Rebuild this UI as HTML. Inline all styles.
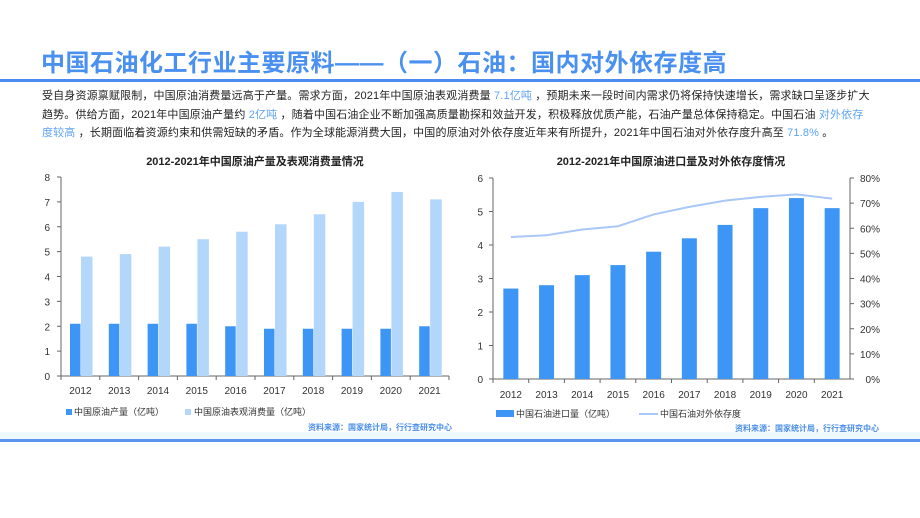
<!DOCTYPE html>
<html><head><meta charset="utf-8">
<style>
body{margin:0;width:920px;height:518px;background:#fff;position:relative;overflow:hidden;font-family:"Liberation Sans","Noto Sans CJK SC",sans-serif;}
.title{position:absolute;left:41px;top:52px;font-size:24px;line-height:24px;font-weight:bold;color:#4a90f0;letter-spacing:0.5px;white-space:nowrap;}
.tline{position:absolute;left:0;top:79px;width:920px;height:3px;background:#4a8cf0;}
.para{position:absolute;left:42px;top:87px;width:900px;font-size:11px;line-height:18.5px;color:#222;letter-spacing:0.15px;white-space:nowrap;}
.hl{color:#5ea4f5;}
.bline{position:absolute;left:0;top:439px;width:920px;height:3px;background:#5b93ee;}
.band{position:absolute;left:0;top:432px;width:920px;height:7px;background:#eef8ff;}
svg{position:absolute;left:0;top:0;}
</style></head><body>
<div class="title">中国石油化工行业主要原料——（一）石油：国内对外依存度高</div>
<div class="tline"></div>
<div class="para">受自身资源禀赋限制，中国原油消费量远高于产量。需求方面，2021年中国原油表观消费量 <span class="hl">7.1亿吨</span> ，预期未来一段时间内需求仍将保持快速增长，需求缺口呈逐步扩大<br>趋势。供给方面，2021年中国原油产量约 <span class="hl">2亿吨</span> ，随着中国石油企业不断加强高质量勘探和效益开发，积极释放优质产能，石油产量总体保持稳定。中国石油 <span class="hl">对外依存<br>度较高</span> ，长期面临着资源约束和供需短缺的矛盾。作为全球能源消费大国，中国的原油对外依存度近年来有所提升，2021年中国石油对外依存度升高至 <span class="hl">71.8%</span> 。</div>
<div class="band"></div>
<div class="bline"></div>
<svg id="chart" width="920" height="518"></svg>
<script>
const years=["2012","2013","2014","2015","2016","2017","2018","2019","2020","2021"];
const production=[2.1,2.1,2.1,2.1,2.0,1.9,1.9,1.9,1.9,2.0];
const consumption=[4.8,4.9,5.2,5.5,5.8,6.1,6.5,7.0,7.4,7.1];
const leftTicks=[0,1,2,3,4,5,6,7,8];
const imports=[2.7,2.8,3.1,3.4,3.8,4.2,4.6,5.1,5.4,5.1];
const dependence=[56.5,57.2,59.5,60.8,65.5,68.5,71.0,72.5,73.5,71.8];
const rightTicksL=[0,1,2,3,4,5,6];
const rightTicksR=[0,10,20,30,40,50,60,70,80];

const svg=document.getElementById('chart');
const NS="http://www.w3.org/2000/svg";
function mk(tag,attrs,txt){const e=document.createElementNS(NS,tag);for(const k in attrs)e.setAttribute(k,attrs[k]);if(txt!==undefined)e.textContent=txt;svg.appendChild(e);return e;}
const F='"Liberation Sans","Noto Sans CJK SC",sans-serif';

// Left chart
const L={x0:61,x1:449,y0:376,y1:177,max:8};
const lx=i=>L.x0+(L.x1-L.x0)/years.length*i;
const ly=v=>L.y0-(L.y0-L.y1)*v/L.max;
const lcw=(L.x1-L.x0)/years.length;
let t=mk('text',{x:255,y:165,'text-anchor':'middle','font-size':11,'font-weight':'bold','font-family':F,fill:'#222'},'2012-2021年中国原油产量及表观消费量情况');

let a=mk('line',{x1:L.x0,y1:L.y1,x2:L.x0,y2:L.y0,stroke:'#666','stroke-width':1});

a=mk('line',{x1:L.x0,y1:L.y0,x2:L.x1,y2:L.y0,stroke:'#666','stroke-width':1});

leftTicks.forEach(v=>{
  const e=mk('text',{x:50,y:ly(v)+4,'text-anchor':'end','font-size':10,'font-family':F,fill:'#333'},v);
  
  mk('line',{x1:L.x0-4,y1:ly(v),x2:L.x0,y2:ly(v),stroke:'#666'});
});
years.forEach((y,i)=>{
  mk('line',{x1:lx(i),y1:L.y0,x2:lx(i),y2:L.y0+4,stroke:'#666'});
  const e=mk('text',{x:lx(i)+lcw/2,y:394,'text-anchor':'middle','font-size':10,'font-family':F,fill:'#333'},y);
  
  let b=mk('rect',{x:lx(i)+9,y:ly(production[i]),width:10.5,height:L.y0-ly(production[i]),fill:'#3d95f5'});
  
  b=mk('rect',{x:lx(i)+20,y:ly(consumption[i]),width:11.5,height:L.y0-ly(consumption[i]),fill:'#b3d6fb'});
  
});
mk('line',{x1:L.x1,y1:L.y0,x2:L.x1,y2:L.y0+4,stroke:'#666'});
let g=mk('rect',{x:66,y:409,width:6,height:6,fill:'#3d95f5'});
g=mk('text',{x:74,y:415,'font-size':9,'font-family':F,fill:'#333'},'中国原油产量（亿吨）');
g=mk('rect',{x:185,y:409,width:6,height:6,fill:'#b3d6fb'});
g=mk('text',{x:194,y:415,'font-size':9,'font-family':F,fill:'#333'},'中国原油表观消费量（亿吨）');
g=mk('text',{x:452,y:430,'text-anchor':'end','font-size':8,'font-weight':'bold','font-family':F,fill:'#4a8ee8'},'资料来源：国家统计局，行行查研究中心');

// Right chart
const R={x0:493,x1:850,y0:379,y1:178,max:6,pmax:80};
const rcw=(R.x1-R.x0)/years.length;
const rx=i=>R.x0+rcw*i;
const ry=v=>R.y0-(R.y0-R.y1)*v/R.max;
const rp=v=>R.y0-(R.y0-R.y1)*v/R.pmax;
t=mk('text',{x:671,y:165,'text-anchor':'middle','font-size':11,'font-weight':'bold','font-family':F,fill:'#222'},'2012-2021年中国原油进口量及对外依存度情况');

a=mk('line',{x1:R.x0,y1:R.y1,x2:R.x0,y2:R.y0,stroke:'#666'});
a=mk('line',{x1:R.x1,y1:R.y1,x2:R.x1,y2:R.y0,stroke:'#666'});
a=mk('line',{x1:R.x0,y1:R.y0,x2:R.x1,y2:R.y0,stroke:'#666'});
rightTicksL.forEach(v=>{
  const e=mk('text',{x:483,y:ry(v)+4,'text-anchor':'end','font-size':10,'font-family':F,fill:'#333'},v);
  
  mk('line',{x1:R.x0-4,y1:ry(v),x2:R.x0,y2:ry(v),stroke:'#666'});
});
rightTicksR.forEach(v=>{
  const e=mk('text',{x:880,y:rp(v)+4,'text-anchor':'end','font-size':10,'font-family':F,fill:'#333'},v+'%');
  
  mk('line',{x1:R.x1,y1:rp(v),x2:R.x1+4,y2:rp(v),stroke:'#666'});
});
years.forEach((y,i)=>{
  mk('line',{x1:rx(i),y1:R.y0,x2:rx(i),y2:R.y0+4,stroke:'#666'});
  const e=mk('text',{x:rx(i)+rcw/2,y:398,'text-anchor':'middle','font-size':10,'font-family':F,fill:'#333'},y);
  
  const b=mk('rect',{x:rx(i)+rcw/2-7.5,y:ry(imports[i]),width:15,height:R.y0-ry(imports[i]),fill:'#3d95f5'});
  
});
let d='';
dependence.forEach((v,i)=>{d+=(i?'L':'M')+(rx(i)+rcw/2)+' '+rp(v)+' ';});
let ln=mk('path',{d:d,fill:'none',stroke:'#a9c8f7','stroke-width':2});

g=mk('rect',{x:496,y:410,width:18,height:7,fill:'#3d95f5'});
g=mk('text',{x:516,y:417,'font-size':9,'font-family':F,fill:'#333'},'中国石油进口量（亿吨）');
g=mk('line',{x1:639,y1:414,x2:658,y2:414,stroke:'#a9c8f7','stroke-width':2});
g=mk('text',{x:660,y:417,'font-size':9,'font-family':F,fill:'#333'},'中国石油对外依存度');
g=mk('text',{x:879,y:431,'text-anchor':'end','font-size':8,'font-weight':'bold','font-family':F,fill:'#4a8ee8'},'资料来源：国家统计局，行行查研究中心');
</script>
</body></html>
